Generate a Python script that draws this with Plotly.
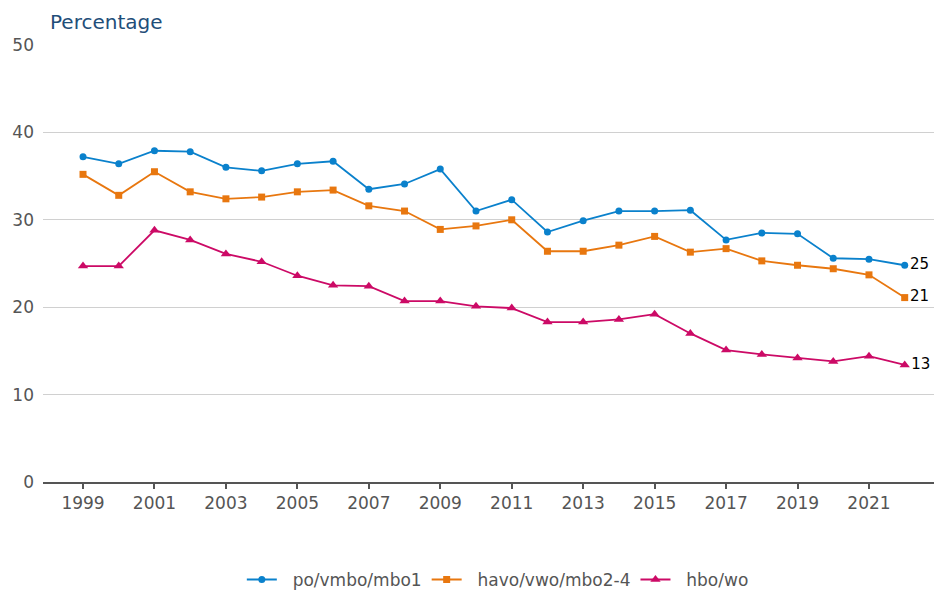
import plotly.graph_objects as go

years = list(range(1999, 2023))
po_vmbo_mbo1 = [37.2, 36.4, 37.9, 37.8, 36.0, 35.6, 36.4, 36.7, 33.5, 34.1, 35.8, 31.0,
                32.3, 28.6, 29.9, 31.0, 31.0, 31.1, 27.7, 28.5, 28.4, 25.6, 25.5, 24.8]
havo_vwo_mbo24 = [35.2, 32.8, 35.5, 33.2, 32.4, 32.6, 33.2, 33.4, 31.6, 31.0, 28.9, 29.3,
                  30.0, 26.4, 26.4, 27.1, 28.1, 26.3, 26.7, 25.3, 24.8, 24.4, 23.7, 21.1]
hbo_wo = [24.7, 24.7, 28.8, 27.7, 26.1, 25.2, 23.6, 22.5, 22.4, 20.7, 20.7, 20.1,
          19.9, 18.3, 18.3, 18.6, 19.2, 17.0, 15.1, 14.6, 14.2, 13.8, 14.4, 13.4]
series_names = ["po/vmbo/mbo1", "havo/vwo/mbo2-4", "hbo/wo"]
tick_years = list(range(1999, 2022, 2))
y_ticks = [0, 10, 20, 30, 40, 50]

colors = ["#0a81cc", "#e8770f", "#cc0a66"]
symbols = ["circle", "square", "triangle-up"]
sizes = [7, 7, 9]

fig = go.Figure()
for name, vals, col, sym, sz in zip(series_names, [po_vmbo_mbo1, havo_vwo_mbo24, hbo_wo],
                                     colors, symbols, sizes):
    labels = [""] * (len(vals) - 1) + [str(round(vals[-1]))]
    fig.add_trace(go.Scatter(
        x=years, y=vals, name="\u00a0\u00a0" + name,
        mode="lines+markers+text",
        text=labels, textposition="middle right",
        textfont=dict(size=15, color="#000000", family="DejaVu Sans"),
        line=dict(color=col, width=1.8),
        marker=dict(color=col, symbol=sym, size=sz),
        cliponaxis=False,
    ))

fig.update_layout(
    width=934, height=590,
    margin=dict(l=43, r=0, t=45, b=108),
    paper_bgcolor="white", plot_bgcolor="white",
    font=dict(family="DejaVu Sans", size=17, color="#555555"),
    showlegend=True,
    legend=dict(orientation="h", x=0.533, xanchor="center", xref="container",
                yref="container", y=0.017, yanchor="middle",
                font=dict(size=17, color="#555555"), itemwidth=30, traceorder="normal"),
    annotations=[dict(text="Percentage", xref="paper", yref="paper", x=0, y=1,
                      xshift=5, yshift=23, xanchor="left", yanchor="middle",
                      showarrow=False, font=dict(size=20, color="#1f4e79"))],
)
fig.update_xaxes(
    range=[1997.88, 2022.82], tickvals=tick_years, ticktext=[str(t) for t in tick_years],
    showgrid=False, showline=True, linecolor="#555555", linewidth=2,
    ticks="outside", ticklen=5, tickwidth=2, tickcolor="#555555",
    tickfont=dict(size=17, color="#555555"), zeroline=False,
)
fig.update_yaxes(
    range=[0, 50], tickvals=y_ticks, showgrid=True, gridcolor="#d0d0d0", gridwidth=1,
    zeroline=False, showline=False, ticks="", tickfont=dict(size=17, color="#555555"),
    ticklabelstandoff=8,
)
fig.write_html("out.html", config={"displayModeBar": False},
               post_script="document.body.style.margin='0';document.body.style.overflow='hidden';")
